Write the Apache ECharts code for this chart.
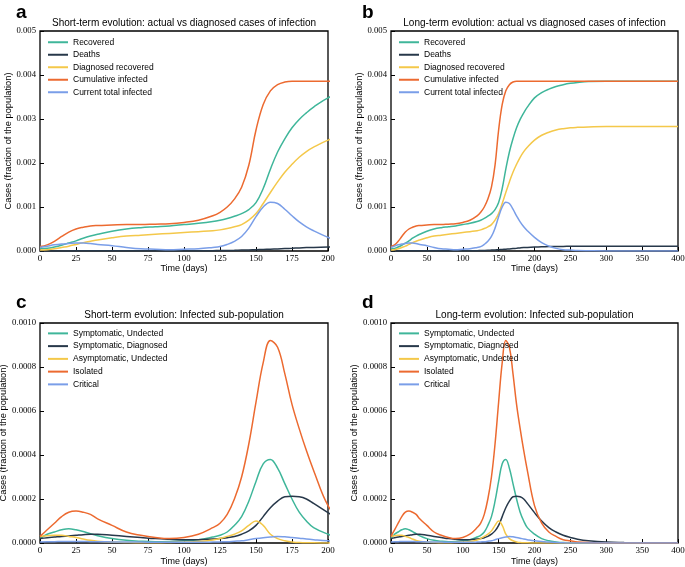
<!DOCTYPE html>
<html><head><meta charset="utf-8">
<script src="https://cdn.jsdelivr.net/npm/echarts@6/dist/echarts.min.js"></script>
<style>html,body{margin:0;padding:0;background:#fff}#c{width:685px;height:567px}</style>
</head><body><div id="c"></div>
<script>
// ---- data (sample days, shared by short-term and long-term panels) ----
const days = [0,5,10,15,20,25,30,35,40,50,60,70,80,90,100,110,120,125,130,135,140,145,150,155,160,165,170,175,180,185,190,200,210,220,230,240,250,260,275,300,325,350,375,400];

// top panels: actual vs diagnosed
const recovered = [0.00005,0.00006,0.00009,0.00013,0.00018,0.00023,0.00029,0.00034,0.00038,0.00045,0.00050,0.00053,0.00055,0.00057,0.00060,0.00063,0.00067,0.00070,0.00074,0.00079,0.00085,0.00094,0.00110,0.00142,0.00186,0.00225,0.00255,0.00280,0.00299,0.00314,0.00327,0.00348,0.00360,0.00368,0.00374,0.00378,0.00381,0.00383,0.00385,0.00386,0.00386,0.00386,0.00386,0.00386];
const deaths = [0,0,0.000001,0.000002,0.000002,0.000003,0.000003,0.000004,0.000004,0.000004,0.000004,0.000004,0.000004,0.000004,0.000005,0.000006,0.000008,0.000010,0.000012,0.000015,0.000020,0.000025,0.000030,0.000036,0.000042,0.000048,0.000055,0.000062,0.000070,0.000077,0.000082,0.000090,0.000096,0.000100,0.000103,0.000105,0.000106,0.000107,0.000107,0.000107,0.000107,0.000107,0.000107,0.000107];
const diagRecovered = [0.00002,0.00003,0.00005,0.00008,0.00011,0.00015,0.00019,0.00022,0.00025,0.00030,0.00034,0.00036,0.00038,0.00040,0.00042,0.00044,0.00046,0.00048,0.00051,0.00055,0.00060,0.00070,0.00085,0.00108,0.00133,0.00157,0.00179,0.00197,0.00213,0.00226,0.00236,0.00252,0.00263,0.00270,0.00275,0.00278,0.00280,0.00281,0.00282,0.00283,0.00283,0.00283,0.00283,0.00283];
const cumInfected = [0.00010,0.00014,0.00022,0.00033,0.00043,0.00050,0.00054,0.00057,0.00058,0.00059,0.00060,0.00060,0.00061,0.00062,0.00065,0.00070,0.00080,0.00088,0.00100,0.00118,0.00145,0.00195,0.00275,0.00333,0.00364,0.00378,0.00384,0.00386,0.00386,0.00386,0.00386,0.00386,0.00386,0.00386,0.00386,0.00386,0.00386,0.00386,0.00386,0.00386,0.00386,0.00386,0.00386,0.00386];
const curInfected = [0.00008,0.00011,0.00014,0.00016,0.00017,0.00018,0.00018,0.00017,0.00015,0.00012,0.00008,0.00005,0.00004,0.00003,0.00004,0.00005,0.00008,0.00010,0.00015,0.00022,0.00033,0.00052,0.00078,0.00100,0.00111,0.00108,0.00095,0.00080,0.00066,0.00055,0.00046,0.00031,0.00019,0.00011,0.00006,0.00003,0.00002,0.00001,0.000005,0,0,0,0,0];

// bottom panels: infected sub-population
const sympUndet = [0.00002,0.00004,0.00005,0.00006,0.000065,0.00006,0.000052,0.000042,0.000033,0.00002,0.000012,0.000008,0.000006,0.000007,0.00001,0.000015,0.000027,0.000035,0.00005,0.00008,0.00012,0.00019,0.00028,0.00036,0.00038,0.00034,0.00027,0.0002,0.00014,0.0001,0.00007,0.00004,0.00002,0.00001,0.000005,0.000002,0.000001,0,0,0,0,0,0,0];
const sympDiag = [0.00002,0.000024,0.000027,0.00003,0.000032,0.000035,0.000038,0.00004,0.00004,0.000035,0.00003,0.000025,0.00002,0.000017,0.000015,0.000015,0.000018,0.00002,0.000024,0.00003,0.00004,0.000055,0.00008,0.00012,0.00016,0.00019,0.00021,0.000212,0.00021,0.0002,0.00018,0.000138,0.0001,0.00007,0.00005,0.000035,0.000025,0.000017,0.00001,0.000004,0.000002,0.000001,0,0];
const asympUndet = [0.00003,0.000033,0.000035,0.000035,0.00003,0.000025,0.000018,0.000012,0.000008,0.000004,0.000002,0.000001,0.000001,0.000002,0.000004,0.000007,0.000014,0.00002,0.00003,0.00004,0.000055,0.00008,0.0001,0.00008,0.00004,0.00002,0.00001,0.000005,0.000002,0.000001,0.000001,0,0,0,0,0,0,0,0,0,0,0,0,0];
const isolated = [0.00003,0.00006,0.00009,0.00012,0.00014,0.000145,0.00014,0.00013,0.00011,0.00008,0.00005,0.000035,0.000025,0.00002,0.000025,0.00004,0.00007,0.00009,0.00013,0.00020,0.00030,0.00045,0.00064,0.00082,0.00092,0.00089,0.00077,0.00063,0.00052,0.00042,0.00033,0.00017,0.00009,0.00005,0.00003,0.000015,0.00001,0.000005,0.000002,0,0,0,0,0];
const critical = [0.000005,0.000006,0.000006,0.000007,0.000007,0.000007,0.000007,0.000006,0.000006,0.000005,0.000004,0.000004,0.000003,0.000003,0.000003,0.000003,0.000004,0.000005,0.000006,0.000008,0.00001,0.000015,0.00002,0.000024,0.000027,0.00003,0.000028,0.000025,0.000022,0.000018,0.000015,0.00001,0.000007,0.000004,0.000002,0.000001,0,0,0,0,0,0,0,0];

const topNames = ['Recovered','Deaths','Diagnosed recovered','Cumulative infected','Current total infected'];
const botNames = ['Symptomatic, Undected','Symptomatic, Diagnosed','Asymptomatic, Undected','Isolated','Critical'];
const topSeries = [recovered, deaths, diagRecovered, cumInfected, curInfected];
const botSeries = [sympUndet, sympDiag, asympUndet, isolated, critical];
const colors = ['#3fb69a','#27384a','#f4c84a','#ec6a30','#7a9ee8'];

const titles = ['Short-term evolution: actual vs diagnosed cases of infection','Long-term evolution: actual vs diagnosed cases of infection','Short-term evolution: Infected sub-population','Long-term evolution: Infected sub-population'];
const letters = ['a','b','c','d'];
const xMax = [200,400,200,400];
const xInterval = [25,50,25,50];
const yMax = [0.005,0.005,0.001,0.001];
const yInterval = [0.001,0.001,0.0002,0.0002];
const yDecimals = [3,3,4,4];

// ---- layout ----
const P = [
  {left:40, top:31, width:288, height:220},
  {left:391, top:31, width:287, height:220},
  {left:40, top:323, width:288, height:220},
  {left:391, top:323, width:287, height:220}
];
const serif = 'Liberation Serif';
const sans = 'Liberation Sans';

const grid=[], xAxis=[], yAxis=[], series=[], title=[], legend=[];
P.forEach((p,i)=>{
  grid.push({left:p.left, top:p.top, width:p.width, height:p.height, containLabel:false, outerBoundsMode:'none',
    show:true, borderColor:'#000', borderWidth:1.3, backgroundColor:'transparent'});
  xAxis.push({type:'value', gridIndex:i, min:0, max:xMax[i], interval:xInterval[i],
    name:'Time (days)', nameLocation:'middle', nameGap:i<2?12:14, nameTextStyle:{fontFamily:sans, fontSize:9, color:'#000'},
    axisLine:{show:false}, axisTick:{inside:true, length:4, lineStyle:{color:'#000'}},
    axisLabel:{fontFamily:serif, fontSize:9, color:'#000', margin:3}, splitLine:{show:false}});
  yAxis.push({type:'value', gridIndex:i, min:0, max:yMax[i], interval:yInterval[i],
    name:'Cases (fraction of the population)', nameLocation:'middle', nameGap:i<2?25:30,
    nameTextStyle:{fontFamily:sans, fontSize:9.3, color:'#000'},
    axisLine:{show:false}, axisTick:{inside:true, length:4, lineStyle:{color:'#000'}},
    axisLabel:{fontFamily:serif, fontSize:8.7, color:'#000', margin:4, formatter:v=>v.toFixed(yDecimals[i])}, splitLine:{show:false}});
  const names = i<2?topNames:botNames;
  const vals = i<2?topSeries:botSeries;
  names.forEach((n,k)=>{
    series.push({type:'line', name:n, xAxisIndex:i, yAxisIndex:i, showSymbol:false, symbol:'none', smooth:0.4,
      color:colors[k], lineStyle:{width:1.5, color:colors[k]}, animation:false, clip:true,
      data: days.map((d,j)=>[d, vals[k][j]])});
  });
  title.push({text:titles[i], left:p.left+p.width/2, textAlign:'center', top:p.top-13, padding:0,
    textStyle:{fontFamily:sans, fontSize:10, fontWeight:'normal', color:'#000'}});
  title.push({text:letters[i], left:(i%2===0)?16:362, top:(i<2)?3:293, padding:0,
    textStyle:{fontFamily:'Liberation Sans', fontSize:19, fontWeight:'bold', color:'#000'}});
  legend.push({orient:'vertical', left:p.left+8, top:p.top+(i<2?5:4), data:names, padding:0,
    icon:'rect', itemWidth:20, itemHeight:2, itemGap:0,
    textStyle:{fontFamily:sans, fontSize:8.5, color:'#000', lineHeight:i<2?12.5:12.75}, selectedMode:false});
});

const chart = echarts.init(document.getElementById('c'), null, {renderer:'canvas'});
chart.setOption({backgroundColor:'#fff', animation:false, grid, xAxis, yAxis, series, title, legend});
</script></body></html>
